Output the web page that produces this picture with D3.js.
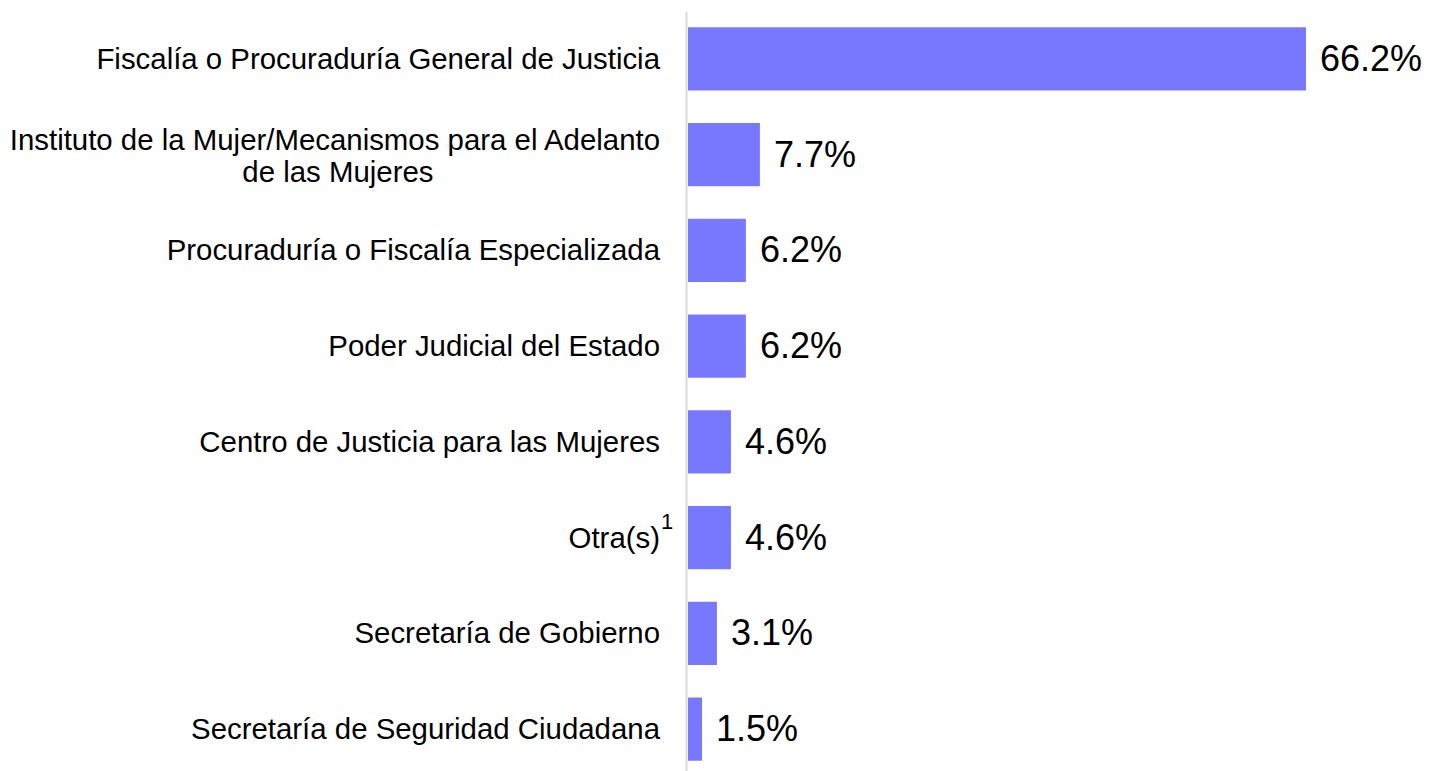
<!DOCTYPE html>
<html>
<head>
<meta charset="utf-8">
<script src="https://cdn.jsdelivr.net/npm/d3@7"></script>
<style>
  body { margin: 0; background: #fff; }
  text { font-family: "Liberation Sans", Arial, sans-serif; }
</style>
</head>
<body>
<script>
// chart values
var categories = [
  ["Fiscalía o Procuraduría General de Justicia"],
  ["Instituto de la Mujer/Mecanismos para el Adelanto", "de las Mujeres"],
  ["Procuraduría o Fiscalía Especializada"],
  ["Poder Judicial del Estado"],
  ["Centro de Justicia para las Mujeres"],
  ["Otra(s)"],
  ["Secretaría de Gobierno"],
  ["Secretaría de Seguridad Ciudadana"]
];
var values = [66.2, 7.7, 6.2, 6.2, 4.6, 4.6, 3.1, 1.5];
var notes = ["", "", "", "", "", "1", "", ""];

var width = 1432, height = 771;
var x0 = 688;

var svg = d3.select("body").append("svg")
    .attr("width", width)
    .attr("height", height);

var x = d3.scaleLinear().domain([0, 66.2]).range([x0, 1306]);
var y = d3.scaleBand()
    .domain(d3.range(values.length))
    .range([11, 777])
    .paddingInner(0.34)
    .paddingOuter(0.17);

// axis line
svg.append("line")
    .attr("x1", x0 - 1.5).attr("x2", x0 - 1.5)
    .attr("y1", 12).attr("y2", height)
    .attr("stroke", "#d9d9d9")
    .attr("stroke-width", 2);

// bars
svg.selectAll("rect.bar")
    .data(values)
    .enter()
    .append("rect")
      .attr("class", "bar")
      .attr("x", x0)
      .attr("y", function (d, i) { return y(i); })
      .attr("width", function (d) { return x(d) - x0; })
      .attr("height", y.bandwidth())
      .attr("fill", "#7878ff");

// value labels
svg.selectAll("text.val")
    .data(values)
    .enter()
    .append("text")
      .attr("class", "val")
      .attr("x", function (d) { return x(d) + 14; })
      .attr("y", function (d, i) { return y(i) + y.bandwidth() / 2 + 12; })
      .style("font-size", "36px")
      .style("fill", "#000")
      .text(function (d) { return d.toFixed(1) + "%"; });

// category labels
var lab = svg.selectAll("g.lab")
    .data(categories)
    .enter()
    .append("g")
      .attr("class", "lab")
      .attr("transform", function (d, i) {
        return "translate(660," + (y(i) + y.bandwidth() / 2) + ")";
      });

lab.each(function (lines, i) {
  var g = d3.select(this);
  if (lines.length === 1) {
    g.append("text")
        .attr("text-anchor", "end")
        .attr("y", 10)
        .style("font-size", "29.4px")
        .text(lines[0]);
    // footnote mark hangs past the label's right edge
    if (notes[i]) {
      g.append("text")
        .attr("x", 1)
        .attr("y", -9)
        .style("font-size", "22px")
        .text(notes[i]);
    }
  } else {
    var first = g.append("text")
        .attr("text-anchor", "end")
        .attr("y", -5)
        .style("font-size", "29.4px")
        .text(lines[0]);
    var w = first.node().getComputedTextLength();
    g.append("text")
        .attr("text-anchor", "middle")
        .attr("x", -w / 2 + 3)
        .attr("y", 27)
        .style("font-size", "29.4px")
        .text(lines[1]);
  }
});
</script>
</body>
</html>
